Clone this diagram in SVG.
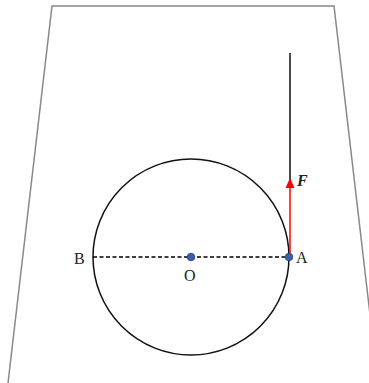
<svg xmlns="http://www.w3.org/2000/svg" width="369" height="383" viewBox="0 0 369 383">
<style>
.lbl{font-family:"Liberation Serif",serif;font-size:16px;fill:#222}
.dot{fill:#3a5fb0;stroke:#2a3f70;stroke-width:0.8}
</style>
<defs>
<marker id="arr" markerWidth="12" markerHeight="12" refX="5" refY="5" orient="auto" markerUnits="userSpaceOnUse">
<path d="M0,0.5 L10,5 L0,9.5 Z" fill="#f00"/>
</marker>
</defs>
<g id="frame">
<polyline points="8,383 52,6 334,6 378,383" fill="none" stroke="#888" stroke-width="1.5"/>
</g>
<g id="circle">
<circle cx="191" cy="257" r="98" fill="none" stroke="#111" stroke-width="1.5"/>
</g>
<g id="connectors">
<line x1="93" y1="257" x2="289" y2="257" stroke="#000" stroke-width="1.3" stroke-dasharray="4,2.5"/>
<line x1="290" y1="53" x2="290" y2="180" stroke="#111" stroke-width="1.5"/>
<line x1="290" y1="257" x2="290" y2="183" stroke="#f00" stroke-width="1.5" marker-end="url(#arr)"/>
</g>
<g id="nodeO"><circle class="dot" cx="191" cy="257" r="3.8"/><text class="lbl" x="184" y="281">O</text></g>
<g id="nodeA"><circle class="dot" cx="289" cy="257" r="3.8"/><text class="lbl" x="296" y="263">A</text></g>
<g id="nodeB"><text class="lbl" x="74" y="264">B</text></g>
<g id="labelF"><text class="lbl" x="297" y="186" font-weight="bold" font-style="italic">F</text></g>
</svg>
